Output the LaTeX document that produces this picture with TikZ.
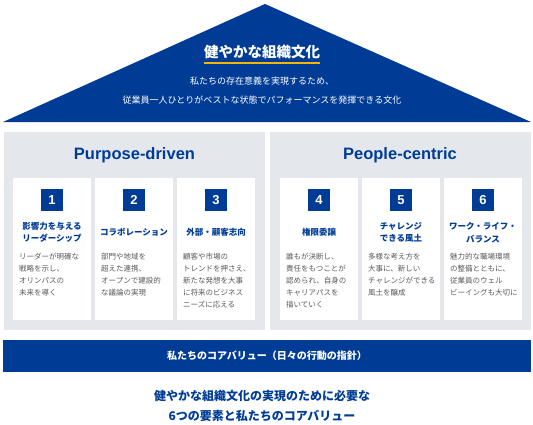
\documentclass[tikz,border=0pt]{standalone}
\usepackage{fontspec}
\setmainfont{Noto Sans CJK JP}
\newfontfamily\latinfont{Liberation Sans}
\usetikzlibrary{positioning}
\definecolor{houseblue}{HTML}{003C96}
\definecolor{panelgray}{HTML}{E4E8ED}
\definecolor{bodygray}{HTML}{5A5A5A}
\definecolor{lineyellow}{HTML}{F2B705}
\tikzset{
	panel/.style={fill=panelgray, minimum width=261pt, minimum height=198pt, inner sep=0},
	panelhead/.style={text=houseblue, font=\latinfont\bfseries\fontsize{16.5}{18}\selectfont},
	card/.style={fill=white, minimum width=78pt, minimum height=142pt, inner sep=0},
	numbox/.style={fill=houseblue, text=white, minimum size=22pt, inner sep=0, font=\latinfont\bfseries\fontsize{13}{13}\selectfont},
	cardtitle/.style={text=houseblue, align=center, inner sep=0, font=\bfseries\fontsize{8.5}{12.5}\selectfont},
	cardtext/.style={text=bodygray, align=left, anchor=north west, inner sep=0, font=\fontsize{7.5}{12}\selectfont}
}

\begin{document}
\begin{tikzpicture}[x=1pt,y=-1pt]
	%\draw[help lines] (0,0) grid[step=20] (533,424);
	\useasboundingbox (0,0) rectangle (533,424);

	% roof
	\fill[houseblue] (3,122) -- (265,4) -- (531,122) -- cycle;
	\node[text=white, inner sep=0, font=\bfseries\fontsize{14.5}{16}\selectfont] (culture) at (262,52) {健やかな組織文化};
	\draw[lineyellow, line width=2.6pt] ([yshift=-4pt]culture.south west) -- ([yshift=-4pt]culture.south east);
	\node[text=white, align=center, font=\fontsize{9}{19}\selectfont] (purpose) at (262,90.5)
		{私たちの存在意義を実現するため、\\従業員一人ひとりがベストな状態でパフォーマンスを発揮できる文化};

	% two halves
	\node[panel] (left) at (134.5,231) {};
	\node[panel] (right) at (400,231) {};
	\node[panelhead] (drivenhead) at (134.5,155) {Purpose-driven};
	\node[panelhead] (centrichead) at (400,155) {People-centric};

	\foreach \cx/\num/\head/\body in {
		52/1/{影響力を与える\\リーダーシップ}/{リーダーが明確な\\戦略を示し、\\オリンパスの\\未来を導く},
		134/2/{コラボレーション}/{部門や地域を\\超えた連携、\\オープンで建設的\\な議論の実現},
		216/3/{外部・顧客志向}/{顧客や市場の\\トレンドを押さえ、\\新たな発想を大事\\に将来のビジネス\\ニーズに応える},
		319/4/{権限委譲}/{誰もが決断し、\\責任をもつことが\\認められ、自身の\\キャリアパスを\\描いていく},
		401/5/{チャレンジ\\できる風土}/{多様な考え方を\\大事に、新しい\\チャレンジができる\\風土を醸成},
		483/6/{ワーク・ライフ・\\バランス}/{魅力的な職場環境\\の整備とともに、\\従業員のウェル\\ビーイングも大切に}}{
		\node[card] (card\num) at (\cx,249) {};
		\node[numbox] (num\num) at (\cx,200) {\num};
		\node[cardtitle] (head\num) at (\cx,232.5) {\head};
		\node[cardtext] (body\num) at (\cx-33,253) {\body};
	}

	% core values
	\node[fill=houseblue, text=white, minimum width=528pt, minimum height=32pt, inner sep=0,
		font=\bfseries\fontsize{10}{12}\selectfont] (values) at (267,356) {私たちのコアバリュー（日々の行動の指針）};
	\node[text=houseblue, align=center, font=\bfseries\fontsize{12}{20}\selectfont] (caption) at (262,406)
		{健やかな組織文化の実現のために必要な\\6つの要素と私たちのコアバリュー};

\end{tikzpicture}
\end{document}
